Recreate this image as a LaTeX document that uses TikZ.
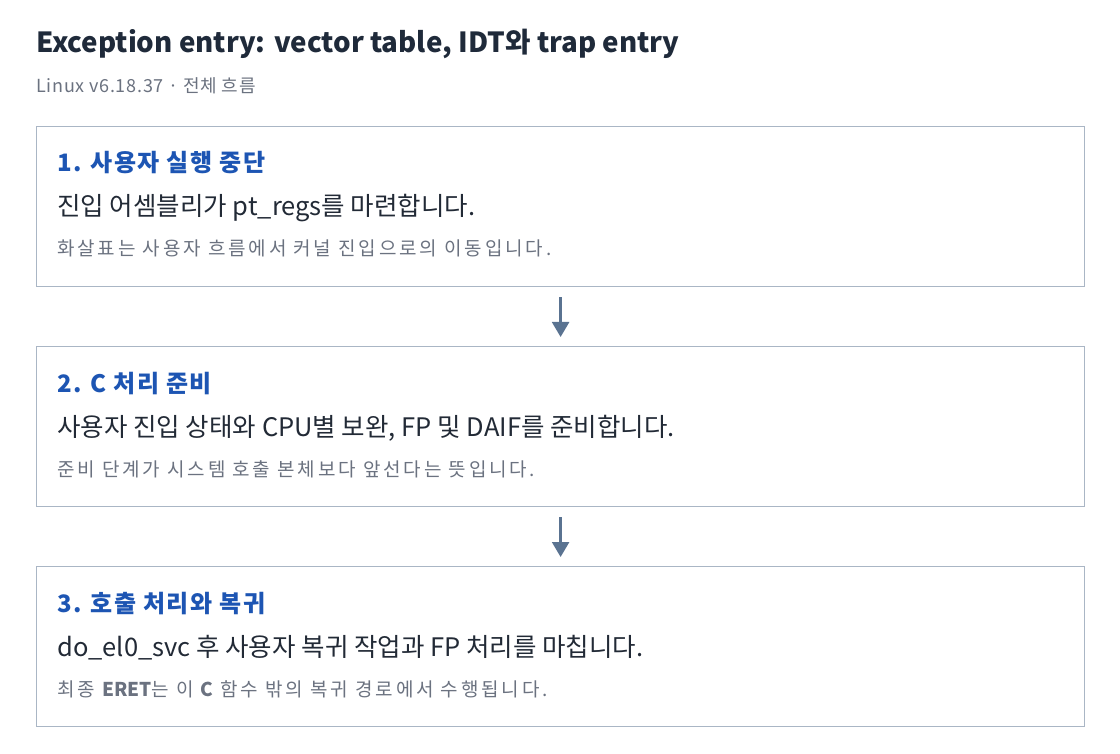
\documentclass[tikz,border=0pt]{standalone}
\usepackage{fontspec}
\setmainfont{Noto Sans CJK KR}
\usetikzlibrary{arrows.meta}
\definecolor{titlec}{HTML}{1F2A3A}
\definecolor{subc}{HTML}{6B7280}
\definecolor{headc}{HTML}{1D55B3}
\definecolor{bodyc}{HTML}{222A36}
\definecolor{notec}{HTML}{6B7280}
\definecolor{borderc}{HTML}{AAB6C5}
\definecolor{arrowc}{HTML}{5A7391}
\newcommand{\notebold}[1]{{\bfseries\addfontfeatures{LetterSpace=0}#1}}
\tikzset{
  stepbox/.style={draw=borderc, line width=1.2pt, fill=white, minimum width=1048pt, minimum height=160pt, inner sep=0pt, anchor=north west},
  titletext/.style={anchor=base west, inner sep=0pt, text=titlec, font=\fontsize{27.7}{32}\selectfont\bfseries},
  subtext/.style={anchor=base west, inner sep=0pt, text=subc, font=\fontsize{18}{22}\selectfont\addfontfeatures{LetterSpace=4}},
  headtext/.style={anchor=base west, inner sep=0pt, text=headc, font=\fontsize{24}{28}\selectfont\bfseries\addfontfeatures{LetterSpace=6}},
  bodytext/.style={anchor=base west, inner sep=0pt, text=bodyc, font=\fontsize{25.5}{30}\selectfont},
  notetext/.style={anchor=base west, inner sep=0pt, text=notec, font=\fontsize{19}{23}\selectfont\addfontfeatures{LetterSpace=15}},
  flowarrow/.style={draw=arrowc, line width=2.4pt, -{Triangle[length=15pt,width=17pt]}}
}
\begin{document}
\begin{tikzpicture}[x=1pt,y=-1pt]
\useasboundingbox[fill=white] (0,0) rectangle (1120,754);
\node[titletext] (title) at (36,53) {Exception entry: vector table, IDT와 trap entry};
\node[subtext] (sub) at (36,93) {Linux v6.18.37 · 전체 흐름};

\node[stepbox] (b1) at (36,126) {};
\node[headtext] (h1) at (57,172) {1. 사용자 실행 중단};
\node[bodytext] (t1) at (57,216) {진입 어셈블리가 pt\_regs를 마련합니다.};
\node[notetext] (n1) at (57,256) {화살표는 사용자 흐름에서 커널 진입으로의 이동입니다.};

\node[stepbox] (b2) at (36,346) {};
\node[headtext] (h2) at (57,392) {2. C 처리 준비};
\node[bodytext] (t2) at (57,436) {사용자 진입 상태와 CPU별 보완, FP 및 DAIF를 준비합니다.};
\node[notetext] (n2) at (57,476) {준비 단계가 시스템 호출 본체보다 앞선다는 뜻입니다.};

\node[stepbox] (b3) at (36,566) {};
\node[headtext] (h3) at (57,612) {3. 호출 처리와 복귀};
\node[bodytext] (t3) at (57,656) {do\_el0\_svc 후 사용자 복귀 작업과 FP 처리를 마칩니다.};
\node[notetext] (n3) at (57,696) {최종 \notebold{ERET}는 이 \notebold{C} 함수 밖의 복귀 경로에서 수행됩니다.};

\draw[flowarrow] ([yshift=-10pt]b1.south) -- ([yshift=9pt]b2.north);
\draw[flowarrow] ([yshift=-10pt]b2.south) -- ([yshift=9pt]b3.north);
\end{tikzpicture}
\end{document}
